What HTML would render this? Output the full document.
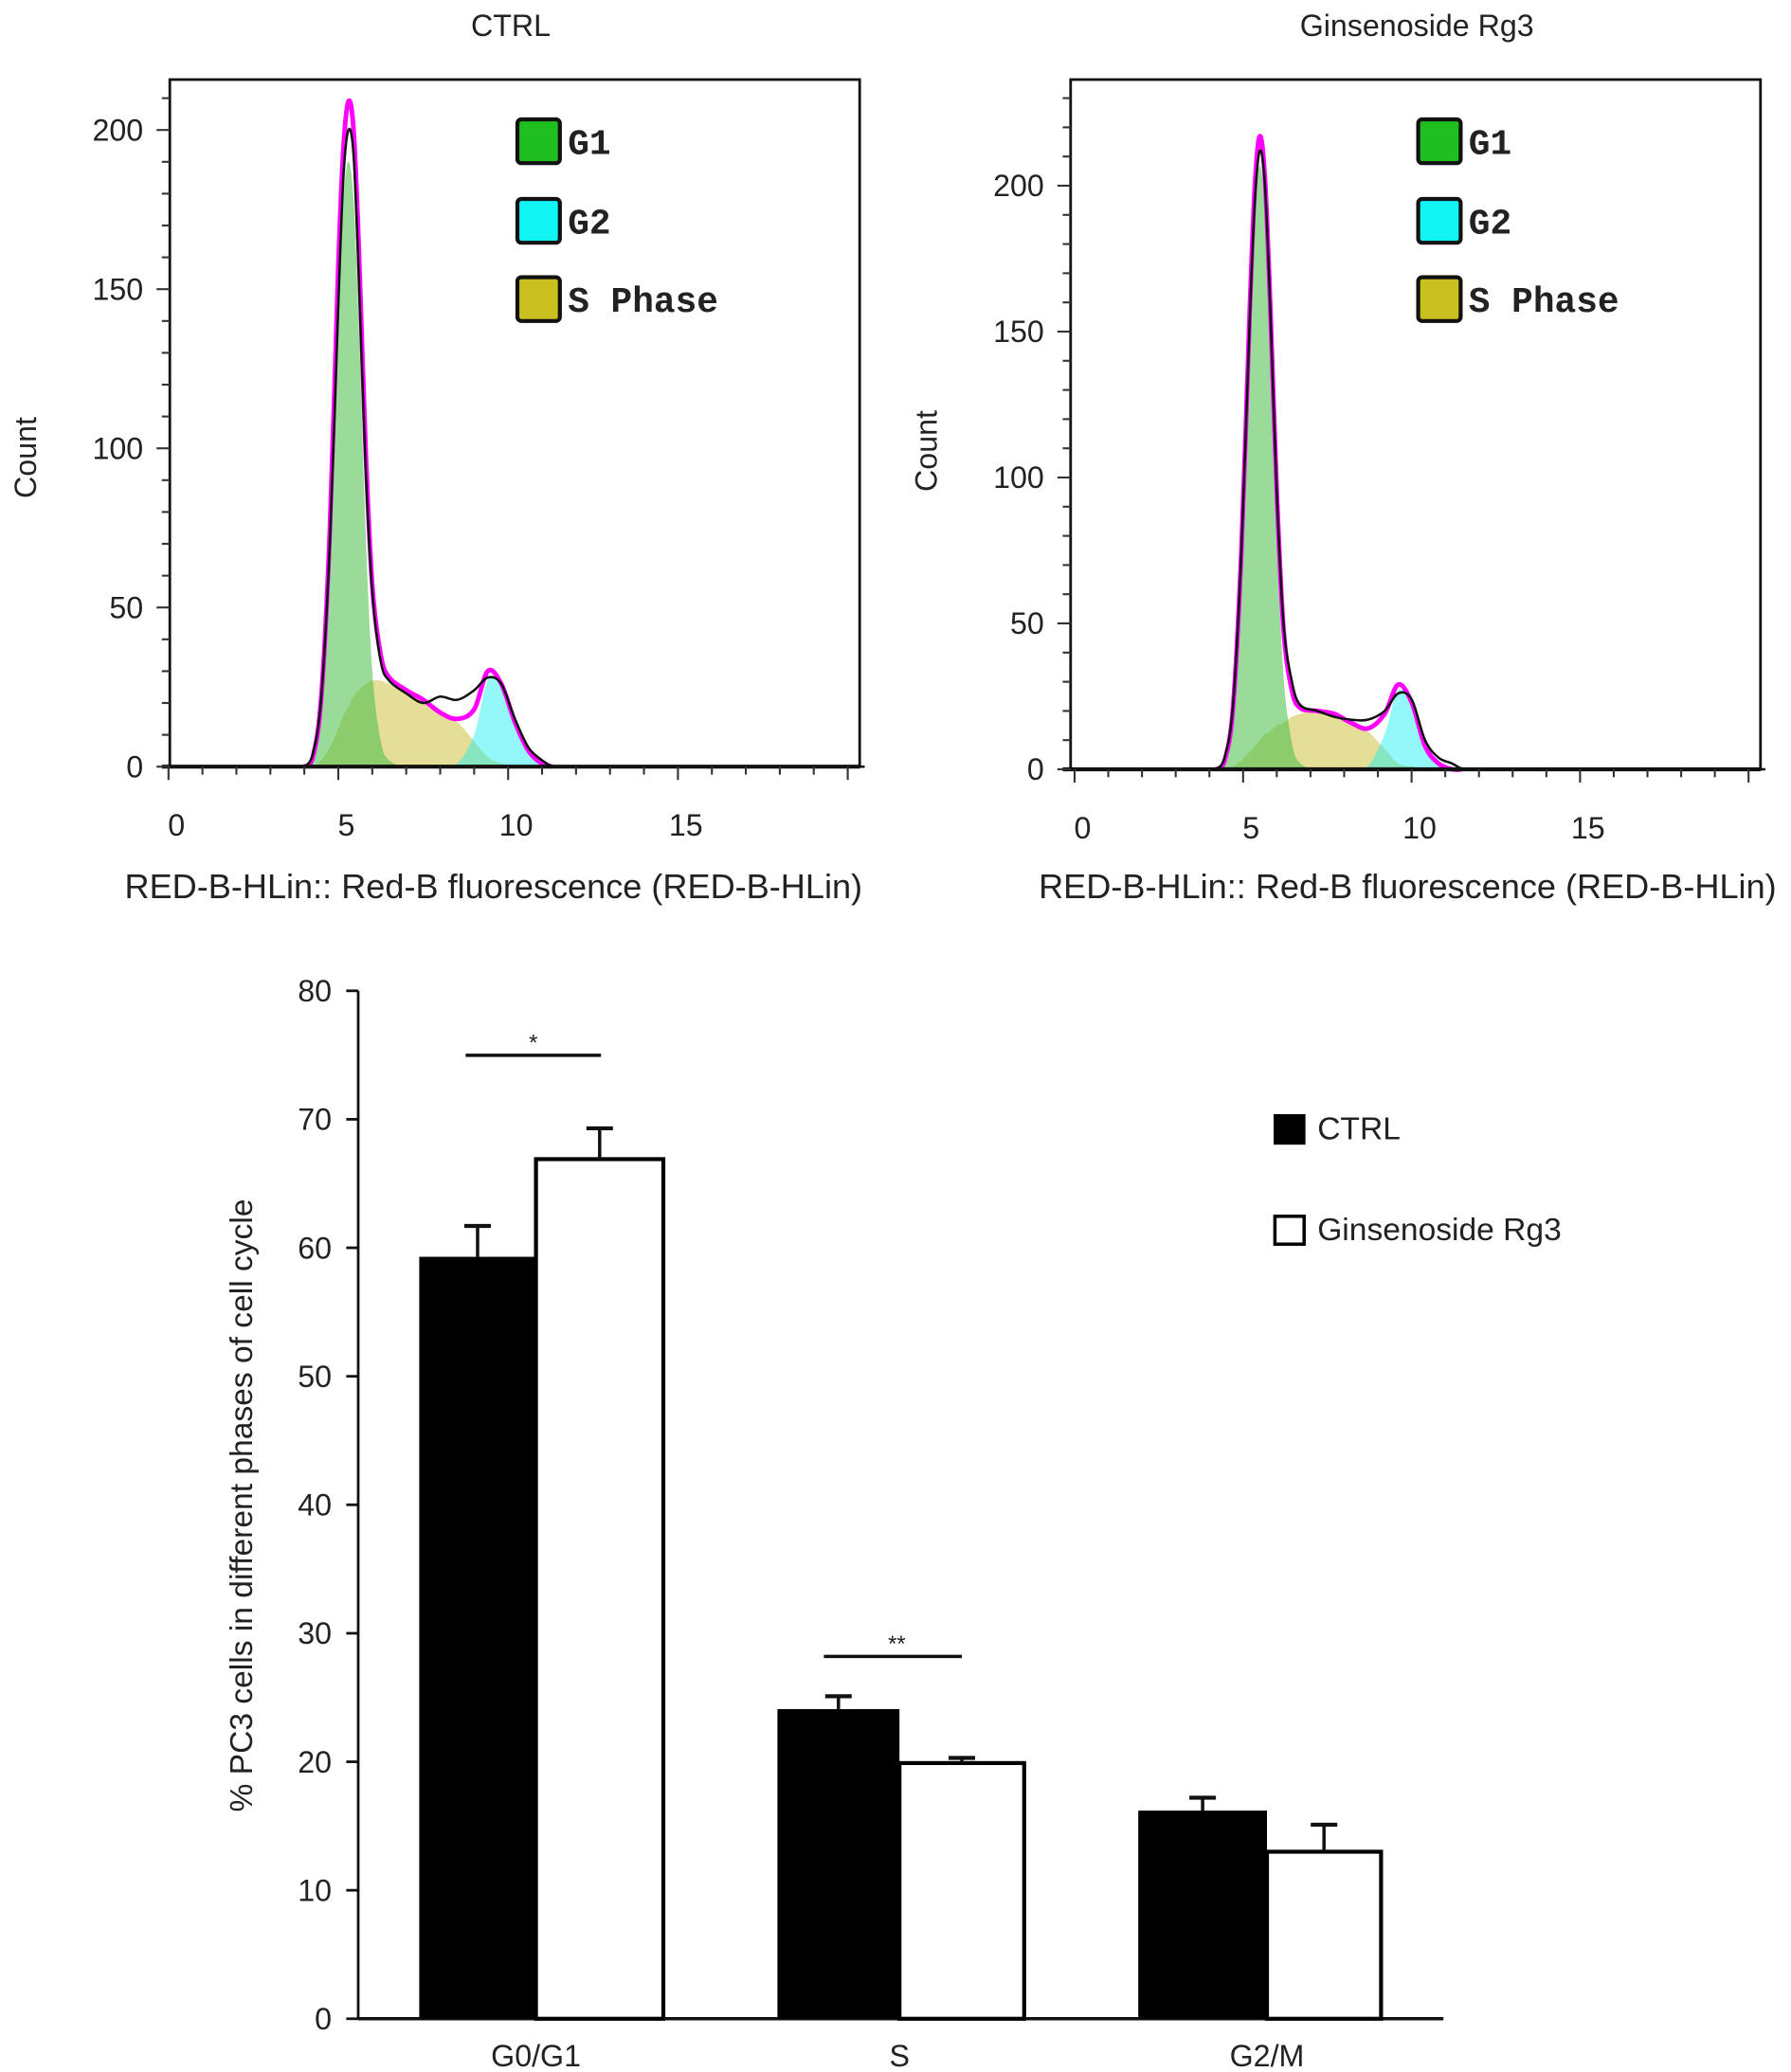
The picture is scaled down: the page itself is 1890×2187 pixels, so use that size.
<!DOCTYPE html>
<html><head><meta charset="utf-8"><style>
html,body{margin:0;padding:0;background:#fff}
svg{display:block}
text{font-family:"Liberation Sans",sans-serif;fill:#222}
.mono{font-family:"Liberation Mono","DejaVu Sans Mono",monospace;font-weight:bold}
</style></head><body>
<svg id="fig" width="1890" height="2187" viewBox="0 0 1350 1562.14" xmlns="http://www.w3.org/2000/svg"></svg>
<script>
// ---- Histogram data (CTRL) ----
const ctrlX = [4.0,4.25,4.5,4.75,5.0,5.15,5.3,5.45,5.6,5.8,6.0,6.25,6.5,7.0,7.5,8.0,8.5,9.0,9.4,9.8,10.2,10.6,11.0,11.3];
const ctrlG1 = [0,3,20,68,145,178,190,178,140,75,30,8,2,0,0,0,0,0,0,0,0,0,0,0];
const ctrlS  = [0,0,2,6,12,16,19,22,24,26,27,27,26,24,21,17,14,8,3,1,0,0,0,0];
const ctrlG2 = [0,0,0,0,0,0,0,0,0,0,0,0,0,0,0,0,1,10,27,25,14,5,1,0];
const ctrlObs = [0,4,22,70,145,185,200,192,155,95,55,33,27,23,20,22,21,24,28,26,15,6,2,0];
// ---- Histogram data (Rg3) ----
const rgX = [4.2,4.45,4.7,4.95,5.2,5.35,5.5,5.65,5.8,6.0,6.2,6.45,6.7,7.2,7.7,8.2,8.7,9.2,9.6,10.0,10.4,10.8,11.2,11.5];
const rgG1 = [0,3,20,72,152,192,207,190,148,80,32,9,2,0,0,0,0,0,0,0,0,0,0,0];
const rgS  = [0,0,1,3,6,8,10,12,13,15,16,18,19,20,19,16,13,7,2,1,0,0,0,0];
const rgG2 = [0,0,0,0,0,0,0,0,0,0,0,0,0,0,0,0,1,12,27,22,8,2,0,0];
const rgObs = [0,4,22,75,155,195,212,200,160,95,50,30,22,20,18,17,17,20,26,24,10,4,2,0];
const histXTicks = [0,5,10,15];
// ---- Bar chart data ----
const categories = ["G0/G1","S","G2/M"];
const ctrlVals = [59.3,24.1,16.2];
const ctrlErr = [2.4,1.0,1.0];
const rg3Vals = [66.9,19.9,13.0];
const rg3Err = [2.4,0.4,2.1];
const barYTicks = [0,10,20,30,40,50,60,70,80];
const sigLabels = ["*","**",""];

const NS="http://www.w3.org/2000/svg";
const svg=document.getElementById('fig');
function mk(tag,attrs,parent,txt){const e=document.createElementNS(NS,tag);for(const k in attrs)e.setAttribute(k,attrs[k]);if(txt!==undefined)e.textContent=txt;(parent||svg).appendChild(e);return e;}
function smooth(pts){let d="M"+pts[0][0]+","+pts[0][1];for(let i=0;i<pts.length-1;i++){const p0=pts[i-1]||pts[i],p1=pts[i],p2=pts[i+1],p3=pts[i+2]||p2;const c1x=p1[0]+(p2[0]-p0[0])/6,c1y=p1[1]+(p2[1]-p0[1])/6,c2x=p2[0]-(p3[0]-p1[0])/6,c2y=p2[1]-(p3[1]-p1[1])/6;d+=" C"+c1x+","+c1y+" "+c2x+","+c2y+" "+p2[0]+","+p2[1];}return d;}

function histogram(cfg){
  const g=mk('g',{});
  
  
  const X=v=>cfg.x0+v*cfg.xs, Y=v=>cfg.y0-v*cfg.ys;
  const t=mk('text',{x:cfg.titleX,y:27,'text-anchor':'middle','font-size':23},g,cfg.title);
  
  const fills=[[cfg.S,'rgba(205,195,70,0.55)','s-phase-fill'],[cfg.G2,'rgba(20,240,240,0.45)','g2-fill'],[cfg.G1,'rgba(70,190,70,0.55)','g1-fill']];
  fills.forEach(f=>{const pts=cfg.xsArr.map((x,i)=>[X(x),Y(f[0][i])]);let d=smooth(pts)+" L"+X(cfg.xsArr[cfg.xsArr.length-1])+","+Y(0)+" L"+X(cfg.xsArr[0])+","+Y(0)+"Z";const p=mk('path',{d:d,fill:f[1]},g);});
  const tot=cfg.xsArr.map((x,i)=>[X(x),Y(cfg.G1[i]+cfg.S[i]+cfg.G2[i])]);
  const m=mk('path',{d:smooth(tot),fill:'none',stroke:'#ff00ff','stroke-width':3.5},g);
  
  const ob=cfg.xsArr.map((x,i)=>[X(x),Y(cfg.obs[i])]);
  const o=mk('path',{d:"M"+X(0)+","+Y(0)+" L"+ob[0][0]+","+ob[0][1]+" "+smooth(ob).replace(/^M[^C]*/,'')+" L"+X(20.5)+","+Y(0),fill:'none',stroke:'#111','stroke-width':1.8},g);
  
  const fr=mk('rect',{x:cfg.fx,y:60,width:520,height:Y(0)-60,fill:'none',stroke:'#111','stroke-width':2},g);
  
  mk('line',{x1:cfg.fx-6,x2:cfg.fx+520,y1:Y(0),y2:Y(0),stroke:'#111','stroke-width':3},g);
  for(let v=0;v*cfg.ys<=Y(0)-62;v+=10){const maj=v%50===0;mk('line',{x1:cfg.fx-(maj?10:6),x2:cfg.fx,y1:Y(v),y2:Y(v),stroke:'#333','stroke-width':1.5},g);
    if(maj){const tt=mk('text',{x:cfg.fx-20,y:Y(v)+8,'text-anchor':'end','font-size':23,'fill':'#333'},g,String(v));}}
  for(let v=0;v<=20;v++){const maj=v%5===0;mk('line',{x1:X(v),x2:X(v),y1:Y(0),y2:Y(0)+(maj?10:6),stroke:'#333','stroke-width':1.5},g);}
  histXTicks.forEach(v=>{const tt=mk('text',{x:X(v)+6,y:Y(0)+52,'text-anchor':'middle','font-size':23},g,String(v));});
  const yl=mk('text',{x:0,y:0,'text-anchor':'middle','font-size':23,transform:`translate(${cfg.fx-101},${cfg.countY}) rotate(-90)`},g,'Count');
  
  const xl=mk('text',{x:cfg.fx+cfg.xlOff,y:677,'text-anchor':'middle','font-size':25.8},g,'RED-B-HLin:: Red-B fluorescence (RED-B-HLin)');
  
  [['G1','#1fbf1f',90],['G2','#10f4f4',150],['S Phase','#c8c01c',209]].forEach(l=>{
    const lg=mk('g',{},g);
    mk('rect',{x:cfg.fx+262,y:l[2],width:32,height:33,rx:3,fill:l[1],stroke:'#111','stroke-width':3},lg);
    mk('text',{x:cfg.fx+300,y:l[2]+26,'font-size':27,'class':'mono'},lg,l[0]);});
}
histogram({name:'ctrl-histogram',title:'CTRL',titleX:385,x0:127,xs:25.6,y0:578,ys:2.4,fx:128,xlOff:244,xsArr:ctrlX,G1:ctrlG1,S:ctrlS,G2:ctrlG2,obs:ctrlObs,countY:345});
histogram({name:'rg3-histogram',title:'Ginsenoside Rg3',titleX:1068,x0:810,xs:25.4,y0:580,ys:2.2,fx:807,xlOff:254,xsArr:rgX,G1:rgG1,S:rgS,G2:rgG2,obs:rgObs,countY:340});

// ---- Bar chart ----
const bg=mk('g',{});
const y0=1522, ys=(1522-747)/80, ax=270;
const BY=v=>y0-v*ys;
const groupStart=[316,586,858], bw=[[88,96],[92,94],[97,86]];
mk('line',{x1:ax,x2:ax,y1:BY(0),y2:BY(80),stroke:'#111','stroke-width':2},bg);
mk('line',{x1:ax,x2:1088,y1:BY(0),y2:BY(0),stroke:'#111','stroke-width':2.5},bg);
barYTicks.forEach(v=>{mk('line',{x1:ax-9,x2:ax,y1:BY(v),y2:BY(v),stroke:'#111','stroke-width':2},bg);
  const t=mk('text',{x:ax-20,y:BY(v)+8,'text-anchor':'end','font-size':23},bg,String(v));});
categories.forEach((c,i)=>{
  const x1=groupStart[i], w1=bw[i][0], x2=x1+w1, w2=bw[i][1];
  const b1=mk('rect',{x:x1,y:BY(ctrlVals[i]),width:w1,height:BY(0)-BY(ctrlVals[i]),fill:'#000'},bg);
  
  const b2=mk('rect',{x:x2,y:BY(rg3Vals[i]),width:w2,height:BY(0)-BY(rg3Vals[i]),fill:'#fff',stroke:'#000','stroke-width':3},bg);
  
  [[x1+w1/2,ctrlVals[i],ctrlErr[i]],[x2+w2/2,rg3Vals[i],rg3Err[i]]].forEach(e=>{
    const eg=mk('g',{},bg);
    mk('line',{x1:e[0],x2:e[0],y1:BY(e[1]),y2:BY(e[1]+e[2]),stroke:'#111','stroke-width':2.5},eg);
    mk('line',{x1:e[0]-10,x2:e[0]+10,y1:BY(e[1]+e[2]),y2:BY(e[1]+e[2]),stroke:'#111','stroke-width':3},eg);});
  const t=mk('text',{x:x2,y:1558,'text-anchor':'middle','font-size':23},bg,c);
  if(sigLabels[i]){const top=Math.max(ctrlVals[i]+ctrlErr[i],rg3Vals[i]+rg3Err[i]);const ly=BY(top)-(i===0?55:30);
    const sg=mk('g',{},bg);
    mk('line',{x1:x1+35,x2:x2+w2-47,y1:ly,y2:ly,stroke:'#111','stroke-width':2.5},sg);
    mk('text',{x:x2-2,y:ly-4,'text-anchor':'middle','font-size':17},sg,sigLabels[i]);}
});
const yt=mk('text',{x:0,y:0,'text-anchor':'middle','font-size':24,transform:'translate(190,1135) rotate(-90)'},bg,'% PC3 cells in different phases of cell cycle');

const l1=mk('g',{},bg);
mk('rect',{x:960,y:840,width:24,height:23,fill:'#000'},l1);mk('text',{x:993,y:859,'font-size':24},l1,'CTRL');
const l2=mk('g',{},bg);
mk('rect',{x:961,y:917,width:22,height:21,fill:'#fff',stroke:'#000','stroke-width':2.5},l2);mk('text',{x:993,y:935,'font-size':24},l2,'Ginsenoside Rg3');
</script>
</body></html>
